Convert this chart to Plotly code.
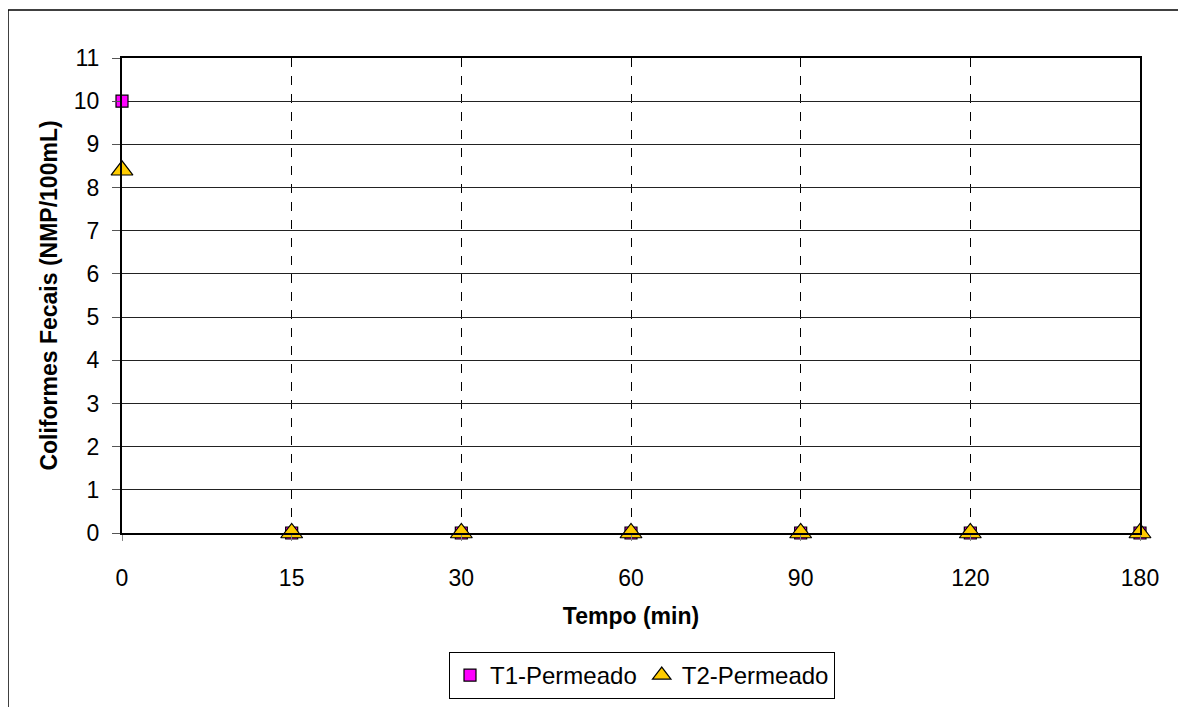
import plotly.graph_objects as go

categories = ["0", "15", "30", "60", "90", "120", "180"]
t1_values = [10, 0, 0, 0, 0, 0, 0]
t2_values = [8.4, 0, 0, 0, 0, 0, 0]
y_ticks = list(range(0, 12))

OFF = 8  # page body margin
W, H = 1186 - OFF, 707 - OFF
# plot area in page pixel coordinates
L, R, T, B = 122, 1140, 58, 533

def px(x):
    return (x - L) / (R - L)

def py(y):
    return (B - y) / (B - T)

fig = go.Figure()
fig.add_trace(go.Scatter(
    x=categories, y=t1_values, mode="markers", name="T1-Permeado",
    marker=dict(symbol="square", size=12, color="#FF00FF", line=dict(color="black", width=1.2)),
    cliponaxis=False,
))
fig.add_trace(go.Scatter(
    x=categories, y=t2_values, mode="markers", name="T2-Permeado",
    marker=dict(symbol="triangle-up", size=19, color="#FFCC00", line=dict(color="black", width=1.2)),
    cliponaxis=False,
))

font = "Liberation Sans, Arial, sans-serif"

fig.update_layout(
    width=W, height=H,
    margin=dict(l=L - OFF, r=W - (R - OFF), t=T - OFF, b=H - (B - OFF), autoexpand=False),
    paper_bgcolor="white", plot_bgcolor="white",
    font=dict(family=font, color="black", size=23),
    showlegend=True,
    legend=dict(
        orientation="h", x=px(642), xanchor="center", y=py(652), yanchor="top",
        bordercolor="black", borderwidth=1, font=dict(size=24, family=font),
        itemsizing="trace", tracegroupgap=0, itemwidth=30,
    ),
    xaxis=dict(
        type="category", range=[0, 6], showgrid=True, gridcolor="black", griddash="dash", gridwidth=1,
        showline=True, linecolor="black", linewidth=2, mirror=True,
        ticks="outside", ticklen=6, tickcolor="#888", ticklabelstandoff=17,
        tickfont=dict(size=23, family=font), zeroline=False,
        title=dict(text="<b>Tempo (min)</b>", font=dict(size=23, family=font), standoff=18),
    ),
    yaxis=dict(
        range=[0, 11], tickvals=y_ticks, showgrid=True, gridcolor="#222", gridwidth=1,
        showline=True, linecolor="black", linewidth=2, mirror=True,
        ticks="outside", ticklen=8, tickcolor="#555", ticklabelstandoff=8,
        tickfont=dict(size=23, family=font), zeroline=False,
        title=dict(text="<b>Coliformes Fecais (NMP/100mL)</b>", font=dict(size=23, family=font), standoff=10),
    ),
    shapes=[
        dict(type="line", xref="paper", yref="paper", x0=px(8), x1=px(1190), y0=py(10), y1=py(10),
             line=dict(color="black", width=1.5)),
        dict(type="line", xref="paper", yref="paper", x0=px(8), x1=px(8), y0=py(10), y1=py(710),
             line=dict(color="black", width=1.5)),
    ],
)

fig.write_html("out.html")
